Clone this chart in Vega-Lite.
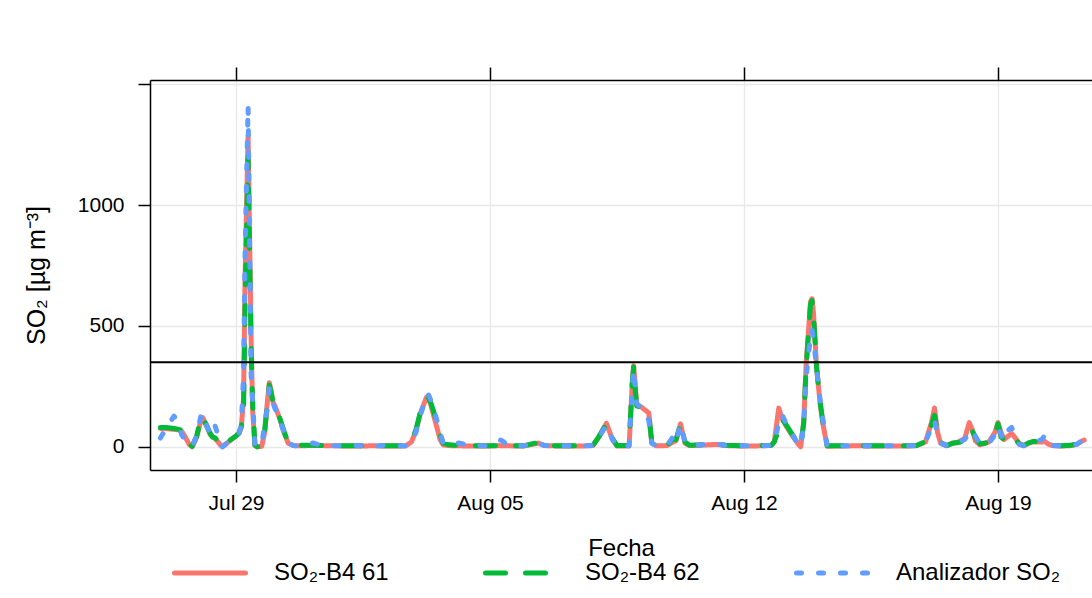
{
  "$schema": "https://vega.github.io/schema/vega-lite/v6.json",
  "width": 942,
  "height": 390,
  "autosize": {"type": "none"},
  "padding": {"left": 150, "top": 80, "right": 0, "bottom": 128},
  "background": "white",
  "config": {
    "view": {"stroke": null},
    "font": "Liberation Sans",
    "axis": {
      "domainColor": "black", "domainWidth": 1.5,
      "tickColor": "black", "tickWidth": 1.5, "tickSize": 12,
      "labelColor": "black", "labelFontSize": 21, "labelFont": "Liberation Sans",
      "titleColor": "black", "titleFontSize": 24, "titleFontWeight": "normal", "titleFont": "Liberation Sans",
      "gridColor": "#E8E8E8", "gridWidth": 1.3
    }
  },
  "data": {
    "values": [
      {"t": "2019-07-26T22:00:00Z", "s61": 76, "s62": 80, "an": 36},
      {"t": "2019-07-27T02:00:00Z", "s61": 75, "s62": 80, "an": 80},
      {"t": "2019-07-27T07:00:00Z", "s61": 72, "s62": 76, "an": 127},
      {"t": "2019-07-27T10:00:00Z", "s61": 70, "s62": 72, "an": 100},
      {"t": "2019-07-27T12:00:00Z", "s61": 65, "s62": 70, "an": 50},
      {"t": "2019-07-27T14:00:00Z", "s61": 45, "s62": 50, "an": 30},
      {"t": "2019-07-27T17:00:00Z", "s61": 10, "s62": 12, "an": 10},
      {"t": "2019-07-27T19:00:00Z", "s61": 0, "s62": 2, "an": 2},
      {"t": "2019-07-27T22:00:00Z", "s61": 40, "s62": 45, "an": 45},
      {"t": "2019-07-28T01:00:00Z", "s61": 115, "s62": 125, "an": 135},
      {"t": "2019-07-28T02:00:00Z", "s61": 120, "s62": 118, "an": 138},
      {"t": "2019-07-28T04:00:00Z", "s61": 95, "s62": 95, "an": 100},
      {"t": "2019-07-28T07:00:00Z", "s61": 50, "s62": 55, "an": 50},
      {"t": "2019-07-28T08:30:00Z", "s61": 42, "s62": 40, "an": 70},
      {"t": "2019-07-28T10:00:00Z", "s61": 35, "s62": 38, "an": 90},
      {"t": "2019-07-28T11:30:00Z", "s61": 25, "s62": 28, "an": 60},
      {"t": "2019-07-28T14:00:00Z", "s61": 5, "s62": 5, "an": 5},
      {"t": "2019-07-28T15:00:00Z", "s61": 0, "s62": 2, "an": 0},
      {"t": "2019-07-28T18:00:00Z", "s61": 15, "s62": 18, "an": 15},
      {"t": "2019-07-29T00:00:00Z", "s61": 45, "s62": 45, "an": 45},
      {"t": "2019-07-29T02:00:00Z", "s61": 55, "s62": 58, "an": 56},
      {"t": "2019-07-29T03:30:00Z", "s61": 80, "s62": 85, "an": 90},
      {"t": "2019-07-29T05:00:00Z", "s61": 200, "s62": 150, "an": 300},
      {"t": "2019-07-29T06:00:00Z", "s61": 700, "s62": 600, "an": 800},
      {"t": "2019-07-29T08:00:00Z", "s61": 1290, "s62": 1200, "an": 1410},
      {"t": "2019-07-29T10:00:00Z", "s61": 450, "s62": 400, "an": 300},
      {"t": "2019-07-29T11:00:00Z", "s61": 150, "s62": 180, "an": 190},
      {"t": "2019-07-29T12:30:00Z", "s61": 5, "s62": 8, "an": 10},
      {"t": "2019-07-29T14:00:00Z", "s61": 0, "s62": 0, "an": 2},
      {"t": "2019-07-29T17:00:00Z", "s61": 2, "s62": 3, "an": 5},
      {"t": "2019-07-29T19:00:00Z", "s61": 60, "s62": 70, "an": 100},
      {"t": "2019-07-29T20:30:00Z", "s61": 170, "s62": 160, "an": 150},
      {"t": "2019-07-29T22:00:00Z", "s61": 265, "s62": 255, "an": 240},
      {"t": "2019-07-29T23:00:00Z", "s61": 240, "s62": 230, "an": 200},
      {"t": "2019-07-30T00:30:00Z", "s61": 185, "s62": 185, "an": 180},
      {"t": "2019-07-30T02:00:00Z", "s61": 165, "s62": 160, "an": 155},
      {"t": "2019-07-30T05:00:00Z", "s61": 115, "s62": 118, "an": 110},
      {"t": "2019-07-30T08:00:00Z", "s61": 55, "s62": 60, "an": 55},
      {"t": "2019-07-30T10:30:00Z", "s61": 15, "s62": 18, "an": 15},
      {"t": "2019-07-30T14:00:00Z", "s61": 5, "s62": 7, "an": 5},
      {"t": "2019-07-30T18:00:00Z", "s61": 4, "s62": 6, "an": 4},
      {"t": "2019-07-31T00:00:00Z", "s61": 5, "s62": 6, "an": 8},
      {"t": "2019-07-31T03:00:00Z", "s61": 6, "s62": 6, "an": 16},
      {"t": "2019-07-31T08:00:00Z", "s61": 5, "s62": 5, "an": 6},
      {"t": "2019-07-31T18:00:00Z", "s61": 4, "s62": 5, "an": 4},
      {"t": "2019-08-01T06:00:00Z", "s61": 3, "s62": 4, "an": 5},
      {"t": "2019-08-01T18:00:00Z", "s61": 4, "s62": 5, "an": 4},
      {"t": "2019-08-02T06:00:00Z", "s61": 3, "s62": 4, "an": 6},
      {"t": "2019-08-02T16:00:00Z", "s61": 3, "s62": 4, "an": 4},
      {"t": "2019-08-02T20:00:00Z", "s61": 20, "s62": 22, "an": 15},
      {"t": "2019-08-02T23:00:00Z", "s61": 65, "s62": 70, "an": 60},
      {"t": "2019-08-03T02:00:00Z", "s61": 140, "s62": 145, "an": 130},
      {"t": "2019-08-03T06:00:00Z", "s61": 205, "s62": 200, "an": 215},
      {"t": "2019-08-03T07:00:00Z", "s61": 210, "s62": 205, "an": 220},
      {"t": "2019-08-03T09:00:00Z", "s61": 170, "s62": 180, "an": 190},
      {"t": "2019-08-03T12:00:00Z", "s61": 100, "s62": 120, "an": 130},
      {"t": "2019-08-03T15:00:00Z", "s61": 30, "s62": 50, "an": 60},
      {"t": "2019-08-03T17:00:00Z", "s61": 8, "s62": 15, "an": 15},
      {"t": "2019-08-03T21:00:00Z", "s61": 5, "s62": 8, "an": 10},
      {"t": "2019-08-04T01:00:00Z", "s61": 4, "s62": 6, "an": 18},
      {"t": "2019-08-04T04:00:00Z", "s61": 4, "s62": 6, "an": 15},
      {"t": "2019-08-04T11:00:00Z", "s61": 3, "s62": 5, "an": 5},
      {"t": "2019-08-04T21:00:00Z", "s61": 3, "s62": 4, "an": 4},
      {"t": "2019-08-05T06:00:00Z", "s61": 5, "s62": 5, "an": 30},
      {"t": "2019-08-05T08:00:00Z", "s61": 4, "s62": 5, "an": 25},
      {"t": "2019-08-05T12:00:00Z", "s61": 4, "s62": 5, "an": 5},
      {"t": "2019-08-05T22:00:00Z", "s61": 3, "s62": 4, "an": 4},
      {"t": "2019-08-06T08:00:00Z", "s61": 15, "s62": 18, "an": 15},
      {"t": "2019-08-06T12:00:00Z", "s61": 5, "s62": 6, "an": 5},
      {"t": "2019-08-06T23:00:00Z", "s61": 3, "s62": 4, "an": 4},
      {"t": "2019-08-07T12:00:00Z", "s61": 3, "s62": 4, "an": 4},
      {"t": "2019-08-07T20:00:00Z", "s61": 5, "s62": 5, "an": 5},
      {"t": "2019-08-08T00:00:00Z", "s61": 40, "s62": 42, "an": 40},
      {"t": "2019-08-08T05:00:00Z", "s61": 97, "s62": 95, "an": 90},
      {"t": "2019-08-08T09:00:00Z", "s61": 30, "s62": 35, "an": 30},
      {"t": "2019-08-08T12:00:00Z", "s61": 3, "s62": 5, "an": 4},
      {"t": "2019-08-08T20:00:00Z", "s61": 3, "s62": 5, "an": 4},
      {"t": "2019-08-08T22:00:00Z", "s61": 250, "s62": 260, "an": 230},
      {"t": "2019-08-08T23:00:00Z", "s61": 335, "s62": 330, "an": 320},
      {"t": "2019-08-09T00:00:00Z", "s61": 260, "s62": 240, "an": 250},
      {"t": "2019-08-09T01:00:00Z", "s61": 175, "s62": 170, "an": 180},
      {"t": "2019-08-09T04:00:00Z", "s61": 165, "s62": 160, "an": 160},
      {"t": "2019-08-09T07:00:00Z", "s61": 150, "s62": 150, "an": 145},
      {"t": "2019-08-09T09:00:00Z", "s61": 140, "s62": 135, "an": 110},
      {"t": "2019-08-09T11:00:00Z", "s61": 15, "s62": 20, "an": 15},
      {"t": "2019-08-09T14:00:00Z", "s61": 4, "s62": 5, "an": 4},
      {"t": "2019-08-09T21:00:00Z", "s61": 5, "s62": 6, "an": 5},
      {"t": "2019-08-10T01:00:00Z", "s61": 20, "s62": 30, "an": 40},
      {"t": "2019-08-10T03:00:00Z", "s61": 25, "s62": 30, "an": 15},
      {"t": "2019-08-10T06:00:00Z", "s61": 95, "s62": 90, "an": 95},
      {"t": "2019-08-10T09:00:00Z", "s61": 15, "s62": 20, "an": 20},
      {"t": "2019-08-10T12:00:00Z", "s61": 5, "s62": 6, "an": 5},
      {"t": "2019-08-11T00:00:00Z", "s61": 8, "s62": 10, "an": 10},
      {"t": "2019-08-11T06:00:00Z", "s61": 10, "s62": 12, "an": 12},
      {"t": "2019-08-11T12:00:00Z", "s61": 5, "s62": 6, "an": 5},
      {"t": "2019-08-12T00:00:00Z", "s61": 3, "s62": 4, "an": 4},
      {"t": "2019-08-12T12:00:00Z", "s61": 4, "s62": 5, "an": 4},
      {"t": "2019-08-12T18:00:00Z", "s61": 6, "s62": 6, "an": 6},
      {"t": "2019-08-12T20:00:00Z", "s61": 20, "s62": 20, "an": 15},
      {"t": "2019-08-12T23:00:00Z", "s61": 160, "s62": 70, "an": 100},
      {"t": "2019-08-13T01:00:00Z", "s61": 120, "s62": 115, "an": 135},
      {"t": "2019-08-13T04:00:00Z", "s61": 85, "s62": 90, "an": 95},
      {"t": "2019-08-13T08:00:00Z", "s61": 45, "s62": 50, "an": 50},
      {"t": "2019-08-13T12:00:00Z", "s61": 10, "s62": 12, "an": 10},
      {"t": "2019-08-13T13:30:00Z", "s61": 0, "s62": 2, "an": 0},
      {"t": "2019-08-13T15:30:00Z", "s61": 100, "s62": 100, "an": 90},
      {"t": "2019-08-13T17:00:00Z", "s61": 330, "s62": 320, "an": 280},
      {"t": "2019-08-13T20:00:00Z", "s61": 600, "s62": 590, "an": 460},
      {"t": "2019-08-13T21:00:00Z", "s61": 612, "s62": 605, "an": 485},
      {"t": "2019-08-13T22:00:00Z", "s61": 550, "s62": 540, "an": 440},
      {"t": "2019-08-14T00:00:00Z", "s61": 330, "s62": 330, "an": 330},
      {"t": "2019-08-14T02:00:00Z", "s61": 200, "s62": 200, "an": 210},
      {"t": "2019-08-14T04:00:00Z", "s61": 100, "s62": 110, "an": 120},
      {"t": "2019-08-14T07:00:00Z", "s61": 2, "s62": 4, "an": 3},
      {"t": "2019-08-14T12:00:00Z", "s61": 3, "s62": 4, "an": 4},
      {"t": "2019-08-15T02:00:00Z", "s61": 4, "s62": 5, "an": 5},
      {"t": "2019-08-15T22:00:00Z", "s61": 3, "s62": 4, "an": 4},
      {"t": "2019-08-16T18:00:00Z", "s61": 4, "s62": 5, "an": 4},
      {"t": "2019-08-17T00:00:00Z", "s61": 20, "s62": 22, "an": 20},
      {"t": "2019-08-17T04:00:00Z", "s61": 100, "s62": 90, "an": 80},
      {"t": "2019-08-17T06:00:00Z", "s61": 160, "s62": 130, "an": 110},
      {"t": "2019-08-17T08:00:00Z", "s61": 60, "s62": 60, "an": 50},
      {"t": "2019-08-17T10:00:00Z", "s61": 15, "s62": 18, "an": 15},
      {"t": "2019-08-17T14:00:00Z", "s61": 4, "s62": 5, "an": 5},
      {"t": "2019-08-17T18:00:00Z", "s61": 15, "s62": 15, "an": 18},
      {"t": "2019-08-17T22:00:00Z", "s61": 20, "s62": 18, "an": 20},
      {"t": "2019-08-18T02:00:00Z", "s61": 35, "s62": 25, "an": 30},
      {"t": "2019-08-18T05:00:00Z", "s61": 100, "s62": 70, "an": 60},
      {"t": "2019-08-18T07:00:00Z", "s61": 70, "s62": 65, "an": 70},
      {"t": "2019-08-18T09:00:00Z", "s61": 25, "s62": 40, "an": 45},
      {"t": "2019-08-18T12:00:00Z", "s61": 8, "s62": 12, "an": 10},
      {"t": "2019-08-18T18:00:00Z", "s61": 20, "s62": 18, "an": 15},
      {"t": "2019-08-18T22:00:00Z", "s61": 60, "s62": 55, "an": 50},
      {"t": "2019-08-19T00:00:00Z", "s61": 100, "s62": 95, "an": 85},
      {"t": "2019-08-19T02:00:00Z", "s61": 60, "s62": 40, "an": 50},
      {"t": "2019-08-19T04:00:00Z", "s61": 30, "s62": 30, "an": 25},
      {"t": "2019-08-19T07:00:00Z", "s61": 45, "s62": 45, "an": 70},
      {"t": "2019-08-19T09:00:00Z", "s61": 55, "s62": 50, "an": 80},
      {"t": "2019-08-19T11:00:00Z", "s61": 40, "s62": 35, "an": 50},
      {"t": "2019-08-19T14:00:00Z", "s61": 15, "s62": 12, "an": 10},
      {"t": "2019-08-19T17:00:00Z", "s61": 4, "s62": 5, "an": 5},
      {"t": "2019-08-19T20:00:00Z", "s61": 15, "s62": 15, "an": 12},
      {"t": "2019-08-19T23:00:00Z", "s61": 20, "s62": 22, "an": 20},
      {"t": "2019-08-20T05:00:00Z", "s61": 20, "s62": 20, "an": 30},
      {"t": "2019-08-20T07:00:00Z", "s61": 22, "s62": 22, "an": 48},
      {"t": "2019-08-20T09:00:00Z", "s61": 12, "s62": 15, "an": 20},
      {"t": "2019-08-20T12:00:00Z", "s61": 5, "s62": 6, "an": 5},
      {"t": "2019-08-20T18:00:00Z", "s61": 3, "s62": 4, "an": 4},
      {"t": "2019-08-21T00:00:00Z", "s61": 5, "s62": 6, "an": 5},
      {"t": "2019-08-21T04:00:00Z", "s61": 10, "s62": 12, "an": 10},
      {"t": "2019-08-21T07:00:00Z", "s61": 22, "s62": 22, "an": 22},
      {"t": "2019-08-21T09:00:00Z", "s61": 28, "s62": 26, "an": 25}
    ]
  },
  "layer": [
    {
      "transform": [{"fold": ["s61", "s62", "an"], "as": ["serie", "valor"]}],
      "mark": {"type": "line", "strokeWidth": 5, "strokeCap": "round", "strokeJoin": "round", "clip": true},
      "encoding": {
        "x": {
          "field": "t", "type": "temporal",
          "scale": {"type": "utc", "domain": [{"year": 2019, "month": 7, "date": 26, "hours": 15, "minutes": 7, "utc": true}, {"year": 2019, "month": 8, "date": 21, "hours": 14, "minutes": 10, "utc": true}]},
          "axis": {
            "orient": "bottom", "title": "Fecha",
            "labelExpr": "utcFormat(datum.value, '%b %d')",
            "values": [{"year": 2019, "month": 7, "date": 29, "utc": true}, {"year": 2019, "month": 8, "date": 5, "utc": true}, {"year": 2019, "month": 8, "date": 12, "utc": true}, {"year": 2019, "month": 8, "date": 19, "utc": true}],
            "labelPadding": 10, "grid": true, "titleY": 85, "titleBaseline": "alphabetic"
          }
        },
        "y": {
          "field": "valor", "type": "quantitative",
          "scale": {"domain": [-96, 1517], "nice": false, "zero": false},
          "axis": {
            "title": "SO₂ [µg m⁻³]", "values": [0, 500, 1000, 1500], "format": "d",
            "labelExpr": "datum.value == 1500 ? '' : datum.label",
            "labelPadding": 14, "grid": true, "titleX": -106, "titleY": 195, "titleAngle": -90,
            "titleFontSize": 25, "titleBaseline": "alphabetic", "titleAlign": "center"
          }
        },
        "color": {
          "field": "serie", "type": "nominal",
          "scale": {"domain": ["s61", "s62", "an"], "range": ["#F8766D", "#00BA38", "#619CFF"]},
          "legend": {
            "title": null, "orient": "none", "legendX": 22, "legendY": 455, "direction": "horizontal", "columns": 3,
            "symbolType": "stroke", "symbolSize": 5041, "symbolStrokeWidth": 5, "labelFontSize": 24, "labelColor": "black",
            "labelOffset": 26, "labelLimit": 400, "gridAlign": "all", "columnPadding": 36, "padding": 0,
            "labelExpr": "datum.label == 's61' ? 'SO₂-B4 61' : datum.label == 's62' ? 'SO₂-B4 62' : 'Analizador SO₂'",
            "encode": {"symbols": {"update": {"strokeCap": {"value": "round"}}}}
          }
        },
        "strokeDash": {
          "field": "serie", "type": "nominal",
          "scale": {"domain": ["s61", "s62", "an"], "range": [[1, 0], [20, 20], [5, 17]]},
          "legend": {
            "title": null, "orient": "none", "legendX": 22, "legendY": 455, "direction": "horizontal", "columns": 3,
            "symbolType": "stroke", "symbolSize": 5041, "symbolStrokeWidth": 5, "labelFontSize": 24, "labelColor": "black",
            "labelOffset": 26, "labelLimit": 400, "gridAlign": "all", "columnPadding": 36, "padding": 0,
            "labelExpr": "datum.label == 's61' ? 'SO₂-B4 61' : datum.label == 's62' ? 'SO₂-B4 62' : 'Analizador SO₂'",
            "encode": {"symbols": {"update": {"strokeCap": {"value": "round"}}}}
          }
        }
      }
    },
    {
      "data": {"values": [{"limite": 350}]},
      "mark": {"type": "rule", "color": "black", "strokeWidth": 2},
      "encoding": {"y": {"field": "limite", "type": "quantitative", "axis": null}}
    },
    {
      "mark": {"type": "rule", "strokeOpacity": 0},
      "encoding": {
        "x": {
          "field": "t", "type": "temporal",
          "axis": {
            "orient": "top", "title": null, "labels": false, "grid": false, "tickSize": 13,
            "values": [{"year": 2019, "month": 7, "date": 29, "utc": true}, {"year": 2019, "month": 8, "date": 5, "utc": true}, {"year": 2019, "month": 8, "date": 12, "utc": true}, {"year": 2019, "month": 8, "date": 19, "utc": true}]
          }
        }
      }
    }
  ],
  "resolve": {"axis": {"x": "independent", "y": "independent"}}
}
